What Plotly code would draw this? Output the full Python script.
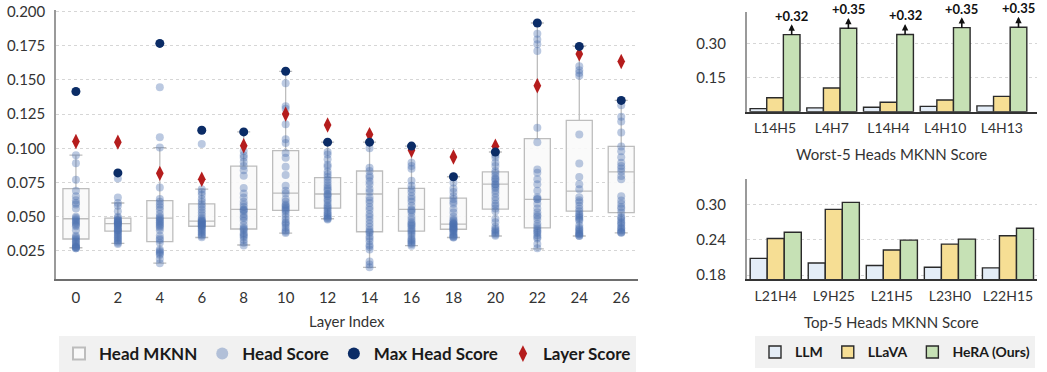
import plotly.graph_objects as go

# ---------------- Left chart data ----------------
layers = [0, 2, 4, 6, 8, 10, 12, 14, 16, 18, 20, 22, 24, 26]

head_scores = [
    [0.1415, 0.095, 0.089, 0.077, 0.069, 0.065, 0.062, 0.060, 0.059, 0.056, 0.050, 0.049, 0.048, 0.047, 0.046, 0.045,
     0.044, 0.043, 0.040, 0.036, 0.035, 0.034, 0.033, 0.032, 0.031, 0.030, 0.029, 0.028, 0.028, 0.027, 0.027, 0.0275],
    [0.082, 0.078, 0.064, 0.060, 0.058, 0.054, 0.050, 0.049, 0.048, 0.047, 0.047, 0.046, 0.046, 0.045, 0.045, 0.044,
     0.044, 0.043, 0.042, 0.041, 0.040, 0.040, 0.039, 0.038, 0.037, 0.036, 0.035, 0.034, 0.033, 0.032, 0.031, 0.030],
    [0.1767, 0.1447, 0.108, 0.1005, 0.0714, 0.063, 0.061, 0.059, 0.057, 0.055, 0.052, 0.050, 0.049, 0.048, 0.047, 0.046,
     0.045, 0.044, 0.043, 0.042, 0.040, 0.036, 0.034, 0.033, 0.031, 0.026, 0.025, 0.024, 0.023, 0.022, 0.019, 0.016],
    [0.1132, 0.1031, 0.070, 0.068, 0.066, 0.063, 0.061, 0.059, 0.057, 0.055, 0.053, 0.051, 0.049, 0.048, 0.047, 0.047,
     0.046, 0.046, 0.045, 0.045, 0.044, 0.044, 0.043, 0.043, 0.042, 0.041, 0.040, 0.039, 0.038, 0.037, 0.036, 0.035],
    [0.112, 0.098, 0.095, 0.093, 0.090, 0.087, 0.084, 0.080, 0.071, 0.067, 0.064, 0.061, 0.059, 0.057, 0.055, 0.055,
     0.054, 0.052, 0.050, 0.049, 0.047, 0.044, 0.042, 0.041, 0.040, 0.038, 0.037, 0.036, 0.035, 0.033, 0.031, 0.029],
    [0.1563, 0.1476, 0.1307, 0.129, 0.1175, 0.1067, 0.1038, 0.0966, 0.093, 0.0865, 0.0805, 0.0726, 0.069, 0.067, 0.063,
     0.061, 0.059, 0.058, 0.057, 0.056, 0.055, 0.054, 0.052, 0.050, 0.048, 0.046, 0.045, 0.044, 0.042, 0.040, 0.039, 0.038],
    [0.1045, 0.0973, 0.0954, 0.092, 0.088, 0.0865, 0.083, 0.081, 0.079, 0.077, 0.075, 0.073, 0.0714, 0.070, 0.069, 0.0666,
     0.066, 0.065, 0.063, 0.0618, 0.060, 0.0582, 0.057, 0.056, 0.0546, 0.053, 0.052, 0.051, 0.050, 0.049, 0.0485, 0.048],
    [0.1045, 0.100, 0.0858, 0.0834, 0.080, 0.0786, 0.076, 0.0738, 0.0702, 0.068, 0.0642, 0.062, 0.060, 0.057, 0.055, 0.052,
     0.050, 0.0475, 0.045, 0.0427, 0.0403, 0.039, 0.038, 0.0355, 0.034, 0.032, 0.0293, 0.028, 0.026, 0.0172, 0.015, 0.013],
    [0.1016, 0.0894, 0.087, 0.085, 0.0762, 0.0726, 0.070, 0.0678, 0.065, 0.063, 0.061, 0.058, 0.0553, 0.0546, 0.053, 0.050,
     0.048, 0.046, 0.0449, 0.044, 0.043, 0.0413, 0.040, 0.039, 0.0377, 0.036, 0.034, 0.033, 0.032, 0.031, 0.030, 0.0288],
    [0.0792, 0.075, 0.0707, 0.068, 0.065, 0.063, 0.061, 0.0594, 0.0558, 0.053, 0.050, 0.048, 0.047, 0.046, 0.045, 0.0449,
     0.044, 0.0445, 0.043, 0.0425, 0.042, 0.0413, 0.041, 0.0405, 0.040, 0.039, 0.038, 0.037, 0.036, 0.0355, 0.035, 0.0348],
    [0.0973, 0.095, 0.093, 0.0894, 0.087, 0.0834, 0.082, 0.0798, 0.078, 0.0774, 0.076, 0.0738, 0.0738, 0.072, 0.071, 0.069,
     0.067, 0.0642, 0.062, 0.0594, 0.058, 0.056, 0.054, 0.0485, 0.046, 0.0427, 0.041, 0.040, 0.039, 0.038, 0.037, 0.036],
    [0.1916, 0.1837, 0.1796, 0.176, 0.1711, 0.115, 0.1045, 0.0845, 0.0822, 0.0774, 0.0738, 0.069, 0.0642, 0.063, 0.0627,
     0.0594, 0.056, 0.0533, 0.051, 0.050, 0.048, 0.0449, 0.043, 0.0413, 0.040, 0.039, 0.038, 0.0365, 0.035, 0.034, 0.030, 0.0269],
    [0.1745, 0.160, 0.157, 0.155, 0.153, 0.110, 0.0889, 0.0791, 0.0738, 0.070, 0.0642, 0.062, 0.0606, 0.058, 0.0558, 0.054,
     0.0522, 0.051, 0.050, 0.049, 0.048, 0.047, 0.0438, 0.042, 0.041, 0.040, 0.039, 0.038, 0.0373, 0.037, 0.036, 0.0359],
    [0.135, 0.1315, 0.123, 0.1195, 0.1116, 0.1014, 0.0979, 0.0935, 0.0894, 0.087, 0.0853, 0.083, 0.0798, 0.0774, 0.065, 0.0618,
     0.0594, 0.057, 0.0558, 0.053, 0.050, 0.049, 0.0475, 0.046, 0.045, 0.0438, 0.042, 0.0413, 0.040, 0.039, 0.0384, 0.0382],
]

max_head_score = [0.1415, 0.082, 0.1767, 0.1132, 0.112, 0.1563, 0.1045, 0.1045, 0.1016, 0.0792, 0.0973, 0.1916, 0.1745, 0.135]
layer_score = [0.105, 0.1045, 0.0817, 0.0774, 0.1019, 0.125, 0.117, 0.110, 0.0985, 0.0936, 0.1015, 0.1457, 0.169, 0.1635]

box_q1 = [0.0337, 0.0394, 0.0317, 0.0430, 0.0410, 0.0546, 0.0562, 0.0390, 0.0394, 0.0408, 0.0555, 0.0418, 0.0541, 0.0529]
box_median = [0.0485, 0.0449, 0.0490, 0.0467, 0.0553, 0.0673, 0.0666, 0.0666, 0.0553, 0.0445, 0.0738, 0.0627, 0.0687, 0.0827]
box_q3 = [0.0705, 0.0490, 0.0618, 0.0594, 0.0870, 0.0983, 0.0786, 0.0834, 0.0707, 0.0636, 0.0827, 0.1070, 0.1204, 0.1014]
box_lower = [0.0273, 0.0305, 0.0161, 0.0348, 0.0293, 0.0380, 0.0485, 0.0130, 0.0288, 0.0348, 0.0359, 0.0264, 0.0359, 0.0382]
box_upper = [0.0950, 0.0600, 0.1005, 0.0702, 0.1120, 0.1563, 0.1045, 0.1045, 0.1016, 0.0792, 0.0973, 0.1916, 0.1745, 0.1350]

# ---------------- Right chart data ----------------
worst_heads = ["L14H5", "L4H7", "L14H4", "L4H10", "L4H13"]
worst_llm = [0.014, 0.017, 0.020, 0.024, 0.026]
worst_llava = [0.062, 0.105, 0.042, 0.052, 0.068]
worst_hera = [0.340, 0.368, 0.341, 0.371, 0.373]
worst_gain_labels = ["+0.32", "+0.35", "+0.32", "+0.35", "+0.35"]

top_heads = ["L21H4", "L9H25", "L21H5", "L23H0", "L22H15"]
top_llm = [0.2087, 0.2008, 0.1964, 0.1935, 0.1924]
top_llava = [0.2425, 0.2920, 0.2228, 0.2329, 0.2471]
top_hera = [0.2532, 0.3039, 0.2397, 0.2414, 0.2599]

model_names = ["LLM", "LLaVA", "HeRA (Ours)"]
model_colors = ["#e4edf7", "#f6de94", "#c6e1b5"]

FONT = "Lato"
TXT = "#333333"
W, H = 1047, 372

fig = go.Figure()

# Box plots (Head MKNN)
fig.add_trace(go.Box(
    x=layers, q1=box_q1, median=box_median, q3=box_q3,
    lowerfence=box_lower, upperfence=box_upper,
    width=1.24, whiskerwidth=0.5,
    fillcolor="rgba(249,249,249,0.9)", line=dict(color="#bdbdbd", width=1.3),
    name="Head MKNN", boxpoints=False, legend="legend", legendrank=1,
    xaxis="x", yaxis="y",
))

# Head score dots
hx, hy = [], []
for L, vals in zip(layers, head_scores):
    hx += [L] * len(vals)
    hy += vals
fig.add_trace(go.Scatter(
    x=hx, y=hy, mode="markers", name="Head Score",
    marker=dict(size=8, color="rgba(76,114,176,0.38)", line=dict(width=0)),
    legend="legend", legendrank=2, xaxis="x", yaxis="y",
))

# Layer score diamonds
fig.add_trace(go.Scatter(
    x=layers, y=layer_score, mode="markers", name="Layer Score",
    marker=dict(size=11, symbol="diamond-tall", color="#b51d1d", line=dict(width=0)),
    legend="legend", xaxis="x", yaxis="y", legendrank=4,
))

# Max head score
fig.add_trace(go.Scatter(
    x=layers, y=max_head_score, mode="markers", name="Max Head Score",
    marker=dict(size=9, color="#0b2c66", line=dict(width=0)),
    legend="legend", xaxis="x", yaxis="y", legendrank=3,
))

# Bars - worst 5 (top right)
for name, vals, col in zip(model_names, [worst_llm, worst_llava, worst_hera], model_colors):
    fig.add_trace(go.Bar(
        x=worst_heads, y=vals, name=name, marker=dict(color=col, line=dict(color="#2a2a2a", width=1.4)),
        xaxis="x2", yaxis="y2", showlegend=False, legend="legend2",
    ))

# Bars - top 5 (bottom right)
for name, vals, col in zip(model_names, [top_llm, top_llava, top_hera], model_colors):
    fig.add_trace(go.Bar(
        x=top_heads, y=vals, name=name, marker=dict(color=col, line=dict(color="#2a2a2a", width=1.4)),
        xaxis="x3", yaxis="y3", showlegend=True, legend="legend2",
    ))

# Gain annotations on HeRA bars (third bar of each group)
bargap = 0.12
bar_w = (1 - bargap) / 3
hera_offset = bar_w
annotations = []
for i, (v, lab) in enumerate(zip(worst_hera, worst_gain_labels)):
    xi = i + hera_offset
    annotations.append(dict(
        x=xi, y=v + 0.046, ax=xi, ay=v - 0.008, xref="x2", yref="y2", axref="x2", ayref="y2",
        showarrow=True, arrowhead=2, arrowsize=0.8, arrowwidth=1.6, arrowcolor="#111111", text="",
    ))
    annotations.append(dict(
        x=xi, y=v, xref="x2", yref="y2", yshift=19, showarrow=False, text=f"<b>{lab}</b>",
        font=dict(family=FONT, size=13, color="#111111"),
    ))

# Axis titles as annotations
title_font = dict(family=FONT, size=15, color=TXT)
annotations.append(dict(x=(56 + 638) / 2 / W, y=1 - 325 / H, xref="paper", yref="paper", showarrow=False,
                        xanchor="center", yanchor="middle", text="Layer Index", font=title_font))
annotations.append(dict(x=(746.7 + 1037) / 2 / W, y=1 - 156 / H, xref="paper", yref="paper", showarrow=False,
                        xanchor="center", yanchor="middle", text="Worst-5 Heads MKNN Score", font=title_font))
annotations.append(dict(x=(746.7 + 1037) / 2 / W, y=1 - 326 / H, xref="paper", yref="paper", showarrow=False,
                        xanchor="center", yanchor="middle", text="Top-5 Heads MKNN Score", font=title_font))

grid = dict(showgrid=True, gridcolor="#d6d6d6", griddash="dot", gridwidth=1)

fig.update_layout(
    width=W, height=H, autosize=False,
    margin=dict(l=0, r=0, t=0, b=0),
    paper_bgcolor="white", plot_bgcolor="white",
    font=dict(family=FONT, size=13, color=TXT),
    barmode="group", bargap=bargap, bargroupgap=0,
    annotations=annotations,
    xaxis=dict(
        domain=[56 / W, 638 / W], range=[-0.95, 26.8], tickmode="array", tickvals=layers,
        showgrid=False, zeroline=False, showline=True, linecolor="#6e6e6e", linewidth=1.5,
        ticks="outside", ticklen=4, tickcolor="rgba(0,0,0,0)", tickfont=dict(size=15, color=TXT),
        automargin=False,
    ),
    yaxis=dict(
        domain=[1 - 283 / H, 1 - 10 / H], range=[0.0043, 0.2012], tick0=0.025, dtick=0.025,
        tickformat=".3f", zeroline=False, showline=True, linecolor="#9a9a9a", linewidth=1.5,
        ticks="outside", ticklen=6, tickcolor="rgba(0,0,0,0)", tickfont=dict(size=15, color=TXT),
        automargin=False, **grid,
    ),
    xaxis2=dict(
        domain=[746.7 / W, 1037 / W], anchor="y2", showgrid=False, zeroline=False,
        showline=True, linecolor="#333333", linewidth=1.5,
        ticks="outside", ticklen=3, tickcolor="rgba(0,0,0,0)", tickfont=dict(size=14, color=TXT),
        automargin=False,
    ),
    yaxis2=dict(
        domain=[1 - 113.3 / H, 1 - 11.7 / H], anchor="x2", range=[0, 0.442],
        tickvals=[0.15, 0.30], tickformat=".2f", zeroline=False, showline=True,
        linecolor="#9a9a9a", linewidth=1.5, ticks="outside", ticklen=16, tickcolor="rgba(0,0,0,0)",
        tickfont=dict(size=15, color=TXT), automargin=False, **grid,
    ),
    xaxis3=dict(
        domain=[746.7 / W, 1037 / W], anchor="y3", showgrid=False, zeroline=False,
        showline=True, linecolor="#333333", linewidth=1.5,
        ticks="outside", ticklen=3, tickcolor="rgba(0,0,0,0)", tickfont=dict(size=14, color=TXT),
        automargin=False,
    ),
    yaxis3=dict(
        domain=[1 - 283.3 / H, 1 - 181.7 / H], anchor="x3", range=[0.1727, 0.3433],
        tickvals=[0.18, 0.24, 0.30], tickformat=".2f", zeroline=False, showline=True,
        linecolor="#9a9a9a", linewidth=1.5, ticks="outside", ticklen=16, tickcolor="rgba(0,0,0,0)",
        tickfont=dict(size=15, color=TXT), automargin=False, **grid,
    ),
    legend=dict(
        orientation="h", x=59 / W, y=1 - 341 / H, xanchor="left", yanchor="top",
        bgcolor="#f1f1f1", borderwidth=0, font=dict(family=FONT, size=17, color="#1a1a1a", weight="bold"),
        itemsizing="constant", traceorder="normal",
    ),
    legend2=dict(
        orientation="h", x=755 / W, y=1 - 341 / H, xanchor="left", yanchor="top",
        bgcolor="#f1f1f1", borderwidth=0, font=dict(family=FONT, size=14, color="#1a1a1a", weight="bold"),
        traceorder="normal", itemwidth=30,
    ),
    showlegend=True,
)

fig.write_html(
    "out.html",
    config={"displayModeBar": False},
    post_script="document.body.style.margin='0';document.documentElement.style.overflow='hidden';",
)
